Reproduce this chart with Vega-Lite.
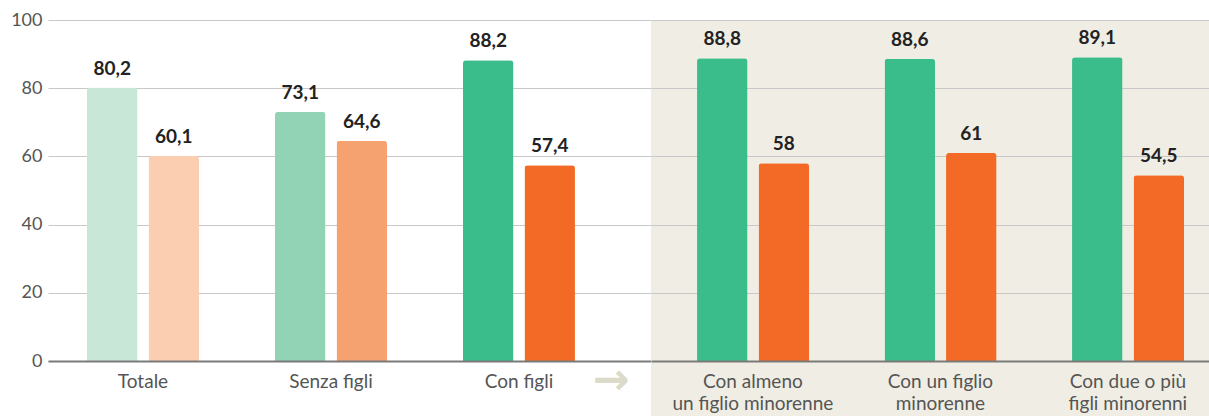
{
  "$schema": "https://vega.github.io/schema/vega-lite/v6.json",
  "padding": {"left": 10, "top": 11, "right": 0, "bottom": 0},
  "background": "white",
  "spacing": 0,
  "config": {
    "locale": {"number": {"decimal": ",", "thousands": ".", "grouping": [3], "currency": ["€", ""]}},
    "font": "Lato",
    "view": {"stroke": null},
    "axis": {"titlePadding": 0}
  },
  "datasets": {
    "tassi": [
      {"gruppo": "Totale", "sesso": "Uomini", "valore": 80.2},
      {"gruppo": "Totale", "sesso": "Donne", "valore": 60.1},
      {"gruppo": "Senza figli", "sesso": "Uomini", "valore": 73.1},
      {"gruppo": "Senza figli", "sesso": "Donne", "valore": 64.6},
      {"gruppo": "Con figli", "sesso": "Uomini", "valore": 88.2},
      {"gruppo": "Con figli", "sesso": "Donne", "valore": 57.4},
      {"gruppo": "Con almeno un figlio minorenne", "sesso": "Uomini", "valore": 88.8},
      {"gruppo": "Con almeno un figlio minorenne", "sesso": "Donne", "valore": 58},
      {"gruppo": "Con un figlio minorenne", "sesso": "Uomini", "valore": 88.6},
      {"gruppo": "Con un figlio minorenne", "sesso": "Donne", "valore": 61},
      {"gruppo": "Con due o più figli minorenni", "sesso": "Uomini", "valore": 89.1},
      {"gruppo": "Con due o più figli minorenni", "sesso": "Donne", "valore": 54.5}
    ]
  },
  "hconcat": [
    {
      "width": 603,
      "height": 341,
      "layer": [
        {
          "data": {"name": "tassi"},
          "transform": [{"filter": {"field": "gruppo", "oneOf": ["Totale", "Senza figli", "Con figli"]}}],
          "mark": {"type": "bar", "cornerRadiusTopLeft": 3, "cornerRadiusTopRight": 3},
          "encoding": {
            "x": {"field": "gruppo", "type": "nominal", "sort": ["Totale", "Senza figli", "Con figli"],
              "scale": {"paddingInner": 0.404, "paddingOuter": 0.306, "align": 0.339},
              "axis": {"title": null, "labelAngle": 0, "zindex": 1, "domainColor": "#7a7a7a", "domainWidth": 2, "ticks": false, "labelFontSize": 19, "labelColor": "#555555", "labelPadding": 11, "labelLineHeight": 22}},
            "xOffset": {"field": "sesso", "type": "nominal", "sort": ["Uomini", "Donne"], "scale": {"paddingInner": 0.179}},
            "y": {"field": "valore", "type": "quantitative", "scale": {"domain": [0, 100], "nice": false},
              "axis": {"title": null, "values": [0, 20, 40, 60, 80, 100], "grid": true, "gridColor": "#c8c8c8", "gridWidth": 1, "domain": false, "ticks": false, "labelFontSize": 18, "labelColor": "#555555", "labelPadding": 6}},
            "color": {
              "condition": [
                {"test": "datum.gruppo == 'Totale' && datum.sesso == 'Uomini'", "value": "#c8e7d7"},
                {"test": "datum.gruppo == 'Totale' && datum.sesso == 'Donne'", "value": "#fbcdb1"},
                {"test": "datum.gruppo == 'Senza figli' && datum.sesso == 'Uomini'", "value": "#93d3b5"},
                {"test": "datum.gruppo == 'Senza figli' && datum.sesso == 'Donne'", "value": "#f6a170"}
              ],
              "field": "sesso", "type": "nominal", "scale": {"domain": ["Uomini", "Donne"], "range": ["#3bbd8b", "#f26a25"]}, "legend": null
            }
          }
        },
        {
          "data": {"name": "tassi"},
          "transform": [{"filter": {"field": "gruppo", "oneOf": ["Totale", "Senza figli", "Con figli"]}}],
          "mark": {"type": "text", "fontWeight": "bold", "fontSize": 19, "color": "#222222", "baseline": "bottom", "dy": -9},
          "encoding": {
            "x": {"field": "gruppo", "type": "nominal", "sort": ["Totale", "Senza figli", "Con figli"]},
            "xOffset": {"field": "sesso", "type": "nominal", "sort": ["Uomini", "Donne"]},
            "y": {"field": "valore", "type": "quantitative"},
            "text": {"field": "valore", "type": "quantitative", "format": ".1~f"}
          }
        },
        {
          "data": {"values": [{"simbolo": "→"}]},
          "mark": {"type": "text", "fontSize": 44, "fontWeight": "bold", "color": "#dcdac8", "font": "DejaVu Sans", "dx": 92, "baseline": "middle"},
          "encoding": {
            "x": {"datum": "Con figli"},
            "y": {"datum": -5.8},
            "text": {"field": "simbolo"}
          }
        }
      ]
    },
    {
      "width": 558,
      "height": 341,
      "view": {"fill": "#f0eee4", "stroke": null},
      "layer": [
        {
          "data": {"values": [{"zona": "sfondo"}]},
          "mark": {"type": "rect", "color": "#f0eee4"},
          "encoding": {
            "y": {"datum": 0, "type": "quantitative"},
            "y2": {"datum": -17}
          }
        },
        {
          "data": {"name": "tassi"},
          "transform": [{"filter": {"field": "gruppo", "oneOf": ["Con almeno un figlio minorenne", "Con un figlio minorenne", "Con due o più figli minorenni"]}}],
          "mark": {"type": "bar", "cornerRadiusTopLeft": 3, "cornerRadiusTopRight": 3},
          "encoding": {
            "x": {"field": "gruppo", "type": "nominal", "sort": ["Con almeno un figlio minorenne", "Con un figlio minorenne", "Con due o più figli minorenni"],
              "scale": {"paddingInner": 0.404, "paddingOuter": 0.19, "align": 0.646},
              "axis": {"title": null, "labelAngle": 0, "zindex": 1, "domainColor": "#7a7a7a", "domainWidth": 2, "ticks": false, "labelFontSize": 19, "labelColor": "#555555", "labelPadding": 11, "labelLineHeight": 22,
                "labelExpr": "datum.label == 'Con almeno un figlio minorenne' ? ['Con almeno', 'un figlio minorenne'] : datum.label == 'Con un figlio minorenne' ? ['Con un figlio', 'minorenne'] : datum.label == 'Con due o più figli minorenni' ? ['Con due o più', 'figli minorenni'] : datum.label"}},
            "xOffset": {"field": "sesso", "type": "nominal", "sort": ["Uomini", "Donne"], "scale": {"paddingInner": 0.179}},
            "y": {"field": "valore", "type": "quantitative", "scale": {"domain": [0, 100], "nice": false},
              "axis": {"title": null, "values": [0, 20, 40, 60, 80, 100], "grid": true, "gridColor": "#c8c8c8", "gridWidth": 1, "domain": false, "ticks": false, "labels": false, "minExtent": 0, "maxExtent": 0}},
            "color": {"field": "sesso", "type": "nominal", "scale": {"domain": ["Uomini", "Donne"], "range": ["#3bbd8b", "#f26a25"]}, "legend": null}
          }
        },
        {
          "data": {"name": "tassi"},
          "transform": [{"filter": {"field": "gruppo", "oneOf": ["Con almeno un figlio minorenne", "Con un figlio minorenne", "Con due o più figli minorenni"]}}],
          "mark": {"type": "text", "fontWeight": "bold", "fontSize": 19, "color": "#222222", "baseline": "bottom", "dy": -9},
          "encoding": {
            "x": {"field": "gruppo", "type": "nominal", "sort": ["Con almeno un figlio minorenne", "Con un figlio minorenne", "Con due o più figli minorenni"]},
            "xOffset": {"field": "sesso", "type": "nominal", "sort": ["Uomini", "Donne"]},
            "y": {"field": "valore", "type": "quantitative"},
            "text": {"field": "valore", "type": "quantitative", "format": ".1~f"}
          }
        }
      ]
    }
  ]
}
